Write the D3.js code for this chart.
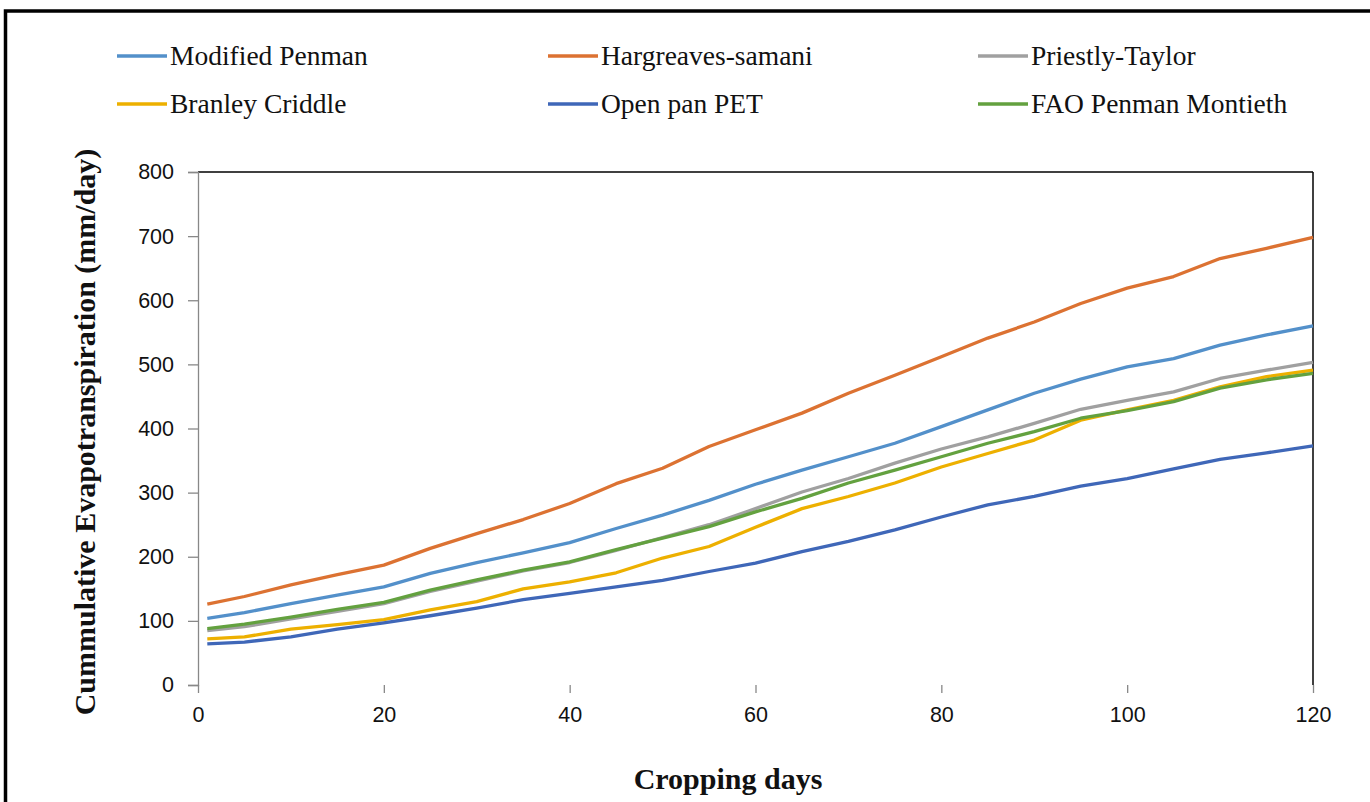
<!DOCTYPE html>
<html>
<head>
<meta charset="utf-8">
<script src="https://cdn.jsdelivr.net/npm/d3@7"></script>
<style>
  html, body { margin: 0; padding: 0; background: #fff; }
  svg { display: block; }
</style>
</head>
<body>
<svg id="chart" width="1370" height="802"></svg>
<script>
// ---- Data ----
const days = [1, 5, 10, 15, 20, 25, 30, 35, 40, 45, 50, 55, 60, 65, 70, 75, 80, 85, 90, 95, 100, 105, 110, 115, 120];
const modifiedPenman = [104, 113, 127, 140, 153, 174, 191, 206, 222, 244, 265, 288, 313, 335, 356, 377, 403, 429, 455, 477, 496, 509, 530, 546, 560];
const hargreavesSamani = [126, 138, 156, 172, 187, 213, 236, 258, 283, 314, 338, 372, 398, 424, 455, 483, 512, 541, 566, 595, 619, 637, 665, 681, 698];
const priestlyTaylor = [85, 91, 103, 115, 127, 146, 162, 178, 191, 210, 230, 250, 275, 301, 322, 346, 368, 387, 408, 430, 444, 457, 478, 491, 503];
const branleyCriddle = [72, 75, 87, 94, 102, 117, 130, 150, 161, 175, 198, 216, 246, 275, 294, 315, 340, 361, 382, 413, 429, 444, 465, 481, 491];
const openPanPET = [64, 67, 75, 87, 97, 108, 120, 133, 143, 153, 163, 177, 190, 208, 224, 242, 262, 281, 294, 310, 322, 337, 352, 362, 373];
const faoPenmanMontieth = [88, 95, 106, 118, 129, 148, 164, 179, 192, 211, 229, 247, 270, 291, 315, 335, 356, 377, 395, 416, 428, 442, 463, 476, 486];

const seriesNames = ["Modified Penman", "Hargreaves-samani", "Priestly-Taylor", "Branley Criddle", "Open pan PET", "FAO Penman Montieth"];
const seriesValues = [modifiedPenman, hargreavesSamani, priestlyTaylor, branleyCriddle, openPanPET, faoPenmanMontieth];
const seriesColors = ["#5390CA", "#DC7232", "#A0A0A0", "#EDB000", "#3F67B8", "#63A13F"];

const xTicks = [0, 20, 40, 60, 80, 100, 120];
const yTicks = [0, 100, 200, 300, 400, 500, 600, 700, 800];

const xTitle = "Cropping days";
const yTitle = "Cummulative Evapotranspiration (mm/day)";

// ---- Layout ----
const svg = d3.select("#chart");
const plot = { left: 198, right: 1313, top: 172, bottom: 685 };

const x = d3.scaleLinear().domain([0, 120]).range([plot.left, plot.right]);
const y = d3.scaleLinear().domain([0, 800]).range([plot.bottom, plot.top]);

// outer border
svg.append("rect")
  .attr("x", 5.5).attr("y", 11)
  .attr("width", 1450).attr("height", 900)
  .attr("fill", "none").attr("stroke", "#000").attr("stroke-width", 3.5);

// top and right frame lines
svg.append("line")
  .attr("x1", plot.left).attr("x2", plot.right)
  .attr("y1", plot.top).attr("y2", plot.top)
  .attr("stroke", "#000").attr("stroke-width", 1.5);
svg.append("line")
  .attr("x1", plot.right).attr("x2", plot.right)
  .attr("y1", plot.top).attr("y2", plot.bottom)
  .attr("stroke", "#000").attr("stroke-width", 1.5);

// y axis
const yAxis = svg.append("g")
  .attr("transform", `translate(${plot.left},0)`)
  .call(d3.axisLeft(y).tickValues(yTicks).tickSize(10).tickPadding(14).tickFormat(d3.format("d")));
yAxis.select(".domain").attr("stroke", "#888").attr("stroke-width", 1.3);
yAxis.selectAll(".tick line").attr("stroke", "#888").attr("stroke-width", 1.3);
yAxis.selectAll(".tick text")
  .attr("font-family", "'Liberation Sans', Arial, sans-serif")
  .attr("font-size", 21.5).attr("fill", "#111");

// x axis (ticks only, no baseline)
const xAxis = svg.append("g")
  .attr("transform", `translate(0,${plot.bottom})`)
  .call(d3.axisBottom(x).tickValues(xTicks).tickSize(8).tickPadding(14).tickFormat(d3.format("d")));
xAxis.select(".domain").remove();
xAxis.selectAll(".tick line").attr("stroke", "#888").attr("stroke-width", 1.3);
xAxis.selectAll(".tick text")
  .attr("font-family", "'Liberation Sans', Arial, sans-serif")
  .attr("font-size", 21.5).attr("fill", "#111");

// series lines
const line = d3.line()
  .x((d, i) => x(days[i]))
  .y(d => y(d));

seriesValues.forEach((vals, k) => {
  svg.append("path")
    .datum(vals)
    .attr("d", line)
    .attr("fill", "none")
    .attr("stroke", seriesColors[k])
    .attr("stroke-width", 3.3)
    .attr("stroke-linejoin", "round");
});

// legend
const legendCols = [117, 548, 978];
const legendRows = [56, 104];
seriesNames.forEach((name, k) => {
  const col = k % 3, row = Math.floor(k / 3);
  const lx = legendCols[col], ly = legendRows[row];
  svg.append("line")
    .attr("x1", lx).attr("x2", lx + 50)
    .attr("y1", ly).attr("y2", ly)
    .attr("stroke", seriesColors[k]).attr("stroke-width", 3.5);
  svg.append("text")
    .attr("x", lx + 53).attr("y", ly)
    .attr("dy", "0.33em")
    .attr("font-family", "'Liberation Serif', 'Times New Roman', serif")
    .attr("font-size", 27.5)
    .attr("fill", "#111")
    .text(name);
});

// axis titles
svg.append("text")
  .attr("x", 728).attr("y", 778)
  .attr("dy", "0.35em")
  .attr("text-anchor", "middle")
  .attr("font-family", "'Liberation Serif', 'Times New Roman', serif")
  .attr("font-weight", "bold")
  .attr("font-size", 30)
  .attr("fill", "#111")
  .text(xTitle);

svg.append("text")
  .attr("transform", "translate(84,432) rotate(-90)")
  .attr("dy", "0.35em")
  .attr("text-anchor", "middle")
  .attr("font-family", "'Liberation Serif', 'Times New Roman', serif")
  .attr("font-weight", "bold")
  .attr("font-size", 30)
  .attr("fill", "#111")
  .text(yTitle);
</script>
</body>
</html>
